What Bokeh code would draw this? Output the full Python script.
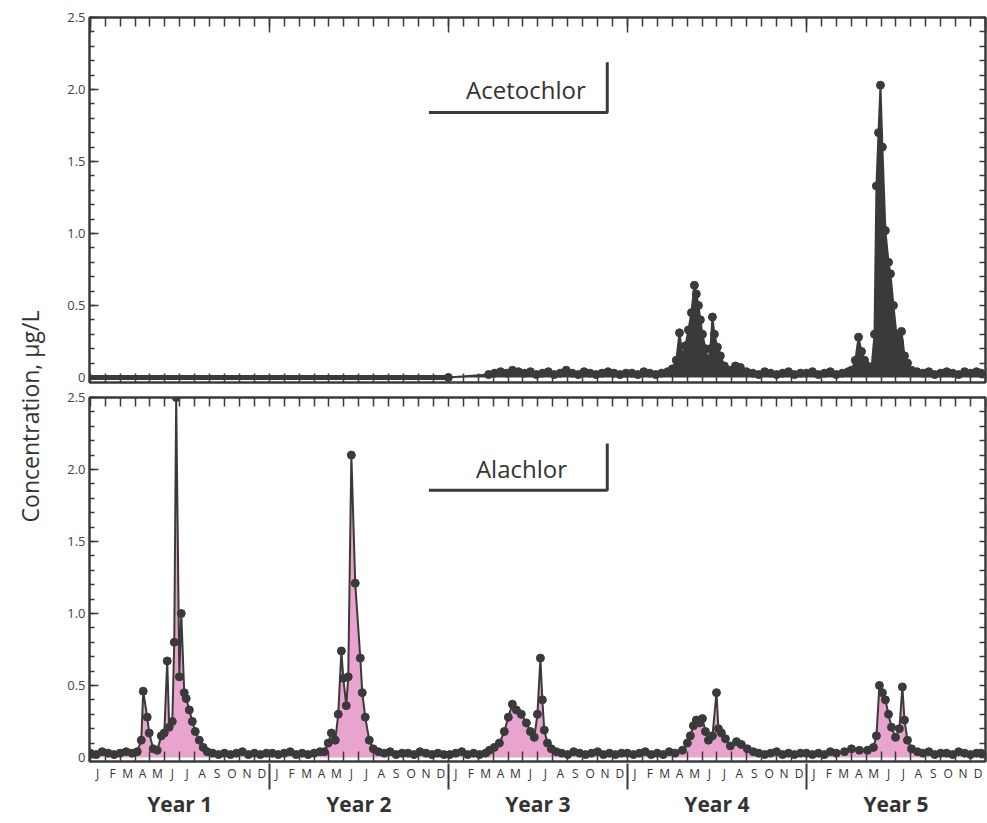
from math import pi
from bokeh.plotting import figure
from bokeh.models import Range1d, LinearAxis, FixedTicker, Label, NumeralTickFormatter
from bokeh.layouts import row, column
from bokeh.embed import file_html
from bokeh.resources import INLINE

# ---------------- data (months within each year, concentration in ug/L) -------------
MONTH_LETTERS = ["J", "F", "M", "A", "M", "J", "J", "A", "S", "O", "N", "D"]
YEAR_LABELS = ["Year 1", "Year 2", "Year 3", "Year 4", "Year 5"]
Y_TICKS = [0, 0.5, 1.0, 1.5, 2.0, 2.5]
Y_TICK_LABELS = ["0", "0.5", "1.0", "1.5", "2.0", "2.5"]

# Acetochlor (top panel)
ACE_Y1_MONTH = [0.0, 12.0]
ACE_Y1_CONC = [0.0, 0.0]
ACE_Y2_MONTH = [0.0, 12.0]
ACE_Y2_CONC = [0.0, 0.0]
ACE_Y3_MONTH = [0.0, 2.7, 3.1, 3.5, 3.9, 4.3, 4.7, 5.1, 5.5, 5.9, 6.3, 6.7, 7.1, 7.5, 7.9,
                8.3, 8.7, 9.1, 9.5, 9.9, 10.3, 10.7, 11.1, 11.5, 11.9]
ACE_Y3_CONC = [0.0, 0.02, 0.03, 0.04, 0.03, 0.05, 0.04, 0.03, 0.04, 0.02, 0.03, 0.04, 0.02, 0.03, 0.05,
               0.03, 0.02, 0.04, 0.03, 0.02, 0.03, 0.04, 0.03, 0.02, 0.03]
ACE_Y4_MONTH = [0.3, 0.7, 1.1, 1.5, 1.9, 2.3, 2.7,
                3.02, 3.28, 3.49, 3.69, 3.89, 4.09, 4.29, 4.49, 4.62, 4.76, 4.89, 5.03, 5.23, 5.43,
                5.56, 5.70, 5.83, 6.03, 6.23, 6.50, 6.84, 7.24, 7.57, 7.98,
                8.4, 8.8, 9.2, 9.6, 10.0, 10.4, 10.8, 11.2, 11.6]
ACE_Y4_CONC = [0.03, 0.02, 0.04, 0.03, 0.02, 0.03, 0.04,
               0.06, 0.12, 0.31, 0.15, 0.22, 0.33, 0.45, 0.64, 0.58, 0.50, 0.40, 0.30, 0.20, 0.12,
               0.20, 0.42, 0.30, 0.21, 0.15, 0.08, 0.05, 0.08, 0.07, 0.04,
               0.03, 0.02, 0.04, 0.03, 0.02, 0.03, 0.04, 0.02, 0.03]
ACE_Y5_MONTH = [0.0, 0.4, 0.8, 1.2, 1.6, 2.0, 2.4, 2.8,
                3.02, 3.28, 3.49, 3.69, 3.89, 4.09, 4.36, 4.56, 4.69, 4.83, 4.96, 5.09, 5.29, 5.50,
                5.63, 5.83, 6.03, 6.23, 6.37, 6.57, 6.77, 7.04,
                7.4, 7.8, 8.2, 8.6, 9.0, 9.4, 9.8, 10.2, 10.6, 11.0, 11.4, 11.7]
ACE_Y5_CONC = [0.03, 0.04, 0.02, 0.03, 0.04, 0.02, 0.03, 0.04,
               0.05, 0.12, 0.28, 0.18, 0.12, 0.08, 0.06, 0.30, 1.33, 1.70, 2.03, 1.60, 1.02, 0.80,
               0.72, 0.50, 0.30, 0.25, 0.32, 0.15, 0.10, 0.05,
               0.04, 0.03, 0.04, 0.02, 0.03, 0.04, 0.03, 0.02, 0.04, 0.03, 0.04, 0.03]

# Alachlor (bottom panel)
ALA_Y1_MONTH = [0.0, 0.4, 0.8, 1.2, 1.6, 2.0, 2.4, 2.8,
                3.15, 3.42, 3.55, 3.82, 3.95, 4.22, 4.49, 4.76, 4.96, 5.16, 5.29, 5.50, 5.63, 5.76,
                5.97, 6.10, 6.30, 6.43, 6.64, 6.84, 7.04, 7.31, 7.57, 7.84,
                8.2, 8.6, 9.0, 9.4, 9.8, 10.2, 10.6, 11.0, 11.4, 11.8]
ALA_Y1_CONC = [0.03, 0.02, 0.04, 0.03, 0.02, 0.03, 0.04, 0.03,
               0.04, 0.12, 0.46, 0.28, 0.17, 0.06, 0.05, 0.15, 0.17, 0.67, 0.21, 0.25, 0.80, 2.50,
               0.56, 1.00, 0.45, 0.41, 0.33, 0.25, 0.18, 0.12, 0.07, 0.04,
               0.03, 0.02, 0.03, 0.02, 0.03, 0.04, 0.02, 0.03, 0.02, 0.03]
ALA_Y2_MONTH = [0.2, 0.6, 1.0, 1.4, 1.8, 2.2, 2.6, 3.0, 3.4,
                3.69, 3.95, 4.16, 4.42, 4.62, 4.83, 4.96, 5.16, 5.29, 5.50, 5.76, 6.10, 6.23, 6.43,
                6.70, 6.97, 7.31,
                7.7, 8.1, 8.5, 8.9, 9.3, 9.7, 10.1, 10.5, 10.9, 11.3, 11.7]
ALA_Y2_CONC = [0.03, 0.02, 0.03, 0.04, 0.02, 0.03, 0.02, 0.03, 0.04,
               0.04, 0.10, 0.17, 0.12, 0.30, 0.74, 0.55, 0.36, 0.56, 2.10, 1.21, 0.69, 0.45, 0.28,
               0.12, 0.06, 0.04,
               0.03, 0.04, 0.02, 0.03, 0.03, 0.02, 0.04, 0.03, 0.02, 0.03, 0.02]
ALA_Y3_MONTH = [0.1, 0.5, 0.9, 1.3, 1.7, 2.1, 2.5,
                2.75, 3.08, 3.42, 3.75, 4.02, 4.29, 4.56, 4.89, 5.23, 5.50, 5.76, 5.97, 6.17, 6.30,
                6.43, 6.64, 6.90, 7.24,
                7.6, 8.0, 8.4, 8.8, 9.2, 9.6, 10.0, 10.4, 10.8, 11.2, 11.6]
ALA_Y3_CONC = [0.02, 0.03, 0.04, 0.02, 0.03, 0.02, 0.03,
               0.05, 0.07, 0.10, 0.18, 0.28, 0.37, 0.33, 0.30, 0.24, 0.18, 0.14, 0.30, 0.69, 0.40,
               0.19, 0.10, 0.06, 0.04,
               0.03, 0.02, 0.04, 0.03, 0.02, 0.03, 0.04, 0.02, 0.03, 0.02, 0.03]
ALA_Y4_MONTH = [0.0, 0.4, 0.8, 1.2, 1.6, 2.0, 2.4, 2.8, 3.2,
                3.69, 4.02, 4.22, 4.42, 4.62, 4.83, 5.03, 5.23, 5.43, 5.70, 5.97, 6.10, 6.30, 6.57,
                6.90, 7.31, 7.64, 8.04, 8.44,
                8.8, 9.2, 9.6, 10.0, 10.4, 10.8, 11.2, 11.6]
ALA_Y4_CONC = [0.03, 0.02, 0.03, 0.04, 0.02, 0.03, 0.02, 0.04, 0.03,
               0.05, 0.10, 0.15, 0.22, 0.26, 0.24, 0.27, 0.18, 0.12, 0.15, 0.45, 0.20, 0.17, 0.13,
               0.08, 0.11, 0.09, 0.06, 0.04,
               0.03, 0.02, 0.03, 0.04, 0.02, 0.03, 0.02, 0.03]
ALA_Y5_MONTH = [0.0, 0.4, 0.8, 1.2, 1.6, 2.0, 2.55, 3.02, 3.55, 4.09, 4.49, 4.69, 4.89, 5.09,
                5.29, 5.50, 5.70, 5.97, 6.23, 6.43, 6.57, 6.77, 7.04, 7.44,
                7.8, 8.2, 8.6, 9.0, 9.4, 9.8, 10.2, 10.6, 11.0, 11.4, 11.7]
ALA_Y5_CONC = [0.03, 0.02, 0.03, 0.02, 0.04, 0.03, 0.04, 0.06, 0.05, 0.05, 0.07, 0.15, 0.50, 0.45,
               0.40, 0.30, 0.21, 0.14, 0.20, 0.49, 0.26, 0.12, 0.06, 0.04,
               0.03, 0.04, 0.02, 0.03, 0.03, 0.02, 0.04, 0.03, 0.02, 0.03, 0.03]

# ---------------- styling / layout ----------------
DARK = "#3a3a3a"
PINK = "#e8a3cf"
FONT = "Open Sans"

# label-box annotation positions (months, ug/L)
ACE_BOX = dict(tx=29.2, ty=2.0, x0=22.7, x1=34.65, yb=1.84, yt=2.19)
ALA_BOX = dict(tx=28.9, ty=2.01, x0=22.7, x1=34.65, yb=1.855, yt=2.18)


def join_years(months, concs, first_year):
    xs, ys = [], []
    for i, (m, c) in enumerate(zip(months, concs)):
        xs += [12 * (first_year + i) + v for v in m]
        ys += list(c)
    return xs, ys


ace_early = [join_years([ACE_Y1_MONTH], [ACE_Y1_CONC], 0), join_years([ACE_Y2_MONTH], [ACE_Y2_CONC], 1)]
ace_x, ace_y = join_years([ACE_Y3_MONTH, ACE_Y4_MONTH, ACE_Y5_MONTH],
                          [ACE_Y3_CONC, ACE_Y4_CONC, ACE_Y5_CONC], 2)
ala_x, ala_y = join_years([ALA_Y1_MONTH, ALA_Y2_MONTH, ALA_Y3_MONTH, ALA_Y4_MONTH, ALA_Y5_MONTH],
                          [ALA_Y1_CONC, ALA_Y2_CONC, ALA_Y3_CONC, ALA_Y4_CONC, ALA_Y5_CONC], 0)

x_range = Range1d(-0.05, 60)
Y_MINOR = [round(i * 0.1, 1) for i in range(26)]
YEAR_BOUNDS = [12 * i for i in range(6)]
MONTH_BOUNDS = list(range(61))

LAB_W = 46
MAIN_W = 941


def style_ticks(ax, minor_in, major_in=0):
    ax.major_tick_in = major_in
    ax.major_tick_out = 0
    ax.minor_tick_in = minor_in
    ax.minor_tick_out = 0
    ax.axis_line_color = DARK
    ax.axis_line_width = 2
    ax.major_tick_line_color = DARK
    ax.minor_tick_line_color = DARK
    ax.major_tick_line_width = 1.5
    ax.minor_tick_line_width = 1.5


def make_fig(height, top, bottom, y_start):
    p = figure(width=MAIN_W, height=height, x_range=x_range, y_range=Range1d(y_start, 2.5),
               x_axis_location=None, y_axis_location=None, toolbar_location=None,
               output_backend="svg", min_border_left=43, min_border_right=2,
               min_border_top=top, min_border_bottom=bottom,
               outline_line_color=DARK, outline_line_width=2)
    p.grid.visible = False
    ax = LinearAxis(ticker=FixedTicker(ticks=Y_TICKS, minor_ticks=Y_MINOR),
                    formatter=NumeralTickFormatter(format="0.0"))
    style_ticks(ax, 5, 9)
    ax.major_label_overrides = {t: s for t, s in zip(Y_TICKS, Y_TICK_LABELS)}
    ax.major_label_text_font = FONT
    ax.major_label_text_font_size = "13px"
    ax.major_label_text_color = "#444444"
    ax.major_label_standoff = 4
    p.add_layout(ax, "left")
    rx = LinearAxis(ticker=FixedTicker(ticks=[], minor_ticks=Y_MINOR))
    style_ticks(rx, 6)
    p.add_layout(rx, "right")
    return p


def month_tick_axis():
    ax = LinearAxis(ticker=FixedTicker(ticks=[], minor_ticks=MONTH_BOUNDS))
    style_ticks(ax, 9)
    return ax


def year_tick_axis():
    ax = LinearAxis(ticker=FixedTicker(ticks=[], minor_ticks=YEAR_BOUNDS))
    style_ticks(ax, 15)
    ax.axis_line_color = None
    return ax


def label_box(p, text, b):
    p.add_layout(Label(x=b["tx"], y=b["ty"], text=text, text_align="center",
                       text_baseline="middle", text_font=FONT, text_font_size="24px",
                       text_color="#333333"))
    p.line([b["x0"], b["x1"], b["x1"]], [b["yb"], b["yb"], b["yt"]],
           line_color=DARK, line_width=3)


# ---------------- top panel: Acetochlor ----------------
TOP_H = 387
p1 = make_fig(TOP_H, 17, 5, -0.035)
p1.add_layout(month_tick_axis(), "above")
p1.add_layout(year_tick_axis(), "above")
p1.add_layout(month_tick_axis(), "below")
for ex, ey in ace_early:
    p1.line(ex, ey, line_color=DARK, line_width=5)
p1.varea(x=ace_x, y1=0, y2=ace_y, fill_color=DARK)
p1.line(ace_x, ace_y, line_color=DARK, line_width=2)
p1.scatter(ace_x, ace_y, size=8, color=DARK)
label_box(p1, "Acetochlor", ACE_BOX)

# ---------------- bottom panel: Alachlor ----------------
BOT_H = 435
p2 = make_fig(BOT_H, 10, 61, -0.028)
p2.add_layout(month_tick_axis(), "above")

mx = LinearAxis(ticker=FixedTicker(ticks=[m + 0.5 for m in range(60)], minor_ticks=MONTH_BOUNDS))
style_ticks(mx, 10)
mx.major_tick_line_color = None
mx.major_label_overrides = {m + 0.5: MONTH_LETTERS[m % 12] for m in range(60)}
mx.major_label_text_font = FONT
mx.major_label_text_font_size = "12px"
mx.major_label_text_color = "#333333"
mx.major_label_standoff = 3
p2.add_layout(mx, "below")

yx = LinearAxis(ticker=FixedTicker(ticks=[12 * i + 6 for i in range(5)], minor_ticks=YEAR_BOUNDS[1:5]))
yx.major_label_overrides = {12 * i + 6: YEAR_LABELS[i] for i in range(5)}
yx.axis_line_color = None
yx.major_tick_line_color = None
yx.major_tick_in = 0
yx.major_tick_out = 0
yx.minor_tick_in = 21
yx.minor_tick_out = 5
yx.minor_tick_line_color = DARK
yx.minor_tick_line_width = 2
yx.major_label_text_font = FONT
yx.major_label_text_font_style = "bold"
yx.major_label_text_font_size = "21px"
yx.major_label_text_color = "#333333"
yx.major_label_standoff = 0
p2.add_layout(yx, "below")

p2.varea(x=ala_x, y1=0, y2=ala_y, fill_color=PINK)
p2.line(ala_x, ala_y, line_color=DARK, line_width=2)
p2.scatter(ala_x, ala_y, size=8, color=DARK)
label_box(p2, "Alachlor", ALA_BOX)

# ---------------- shared y-axis title ----------------
TOTAL_H = TOP_H + BOT_H
lab = figure(width=LAB_W, height=TOTAL_H, x_range=Range1d(0, LAB_W), y_range=Range1d(0, TOTAL_H),
             x_axis_location=None, y_axis_location=None, toolbar_location=None,
             output_backend="svg", min_border=0, outline_line_color=None)
lab.grid.visible = False
lab.add_layout(Label(x=29, y=TOTAL_H - 416, text="Concentration, \u03bcg/L", angle=pi / 2,
                     text_align="center", text_baseline="middle", text_font=FONT,
                     text_font_size="23px", text_color="#333333"))

layout = row(lab, column(p1, p2))
open("out.html", "w").write(file_html(layout, INLINE))
